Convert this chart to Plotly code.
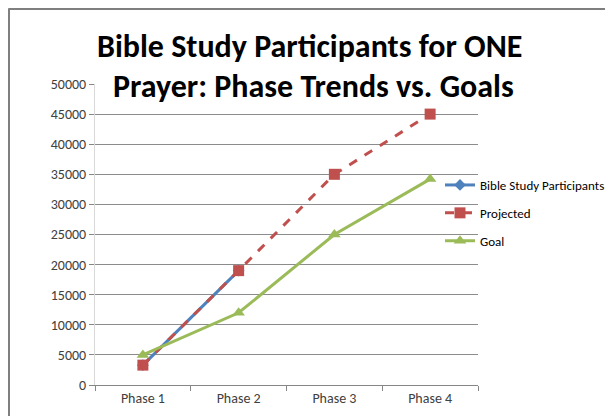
import plotly.graph_objects as go

phases = ["Phase 1", "Phase 2", "Phase 3", "Phase 4"]
participants = [3300, 19000, None, None]
projected = [3300, 19000, 35000, 45000]
goal = [5000, 12000, 25000, 34200]
y_ticks = list(range(0, 50001, 5000))

FONT = "Carlito, 'Liberation Sans Narrow', 'DejaVu Sans Condensed', 'Open Sans', sans-serif"

fig = go.Figure()
fig.add_trace(go.Scatter(
    x=phases, y=participants, name="Bible Study Participants", mode="lines+markers",
    line=dict(color="#4F81BD", width=3), marker=dict(symbol="diamond", size=9, color="#4F81BD"),
    legendgroup="a"))
fig.add_trace(go.Scatter(
    x=phases, y=projected, name="Projected", mode="lines+markers",
    line=dict(color="#C0504D", width=3, dash="dash"), marker=dict(symbol="square", size=11, color="#C0504D"),
    legendgroup="b"))
fig.add_trace(go.Scatter(
    x=phases, y=goal, name="Goal", mode="lines+markers",
    line=dict(color="#9BBB59", width=3), marker=dict(symbol="triangle-up", size=11, color="#9BBB59"),
    legendgroup="c"))

# page body has an 8px margin; work in page coordinates and shift
OFF = 8
L, R, T, B = 95 - OFF, 478 - OFF, 84 - OFF, 385 - OFF
W, H = 613 - OFF, 416 - OFF
pw, ph = R - L, B - T

def px(x):
    return (x - OFF - L) / pw

def py(y):
    return (B - (y - OFF)) / ph

fig.update_layout(
    width=W, height=H,
    margin=dict(l=L, r=W - R, t=T, b=H - B, pad=0, autoexpand=False),
    paper_bgcolor="white", plot_bgcolor="white",
    font=dict(family=FONT, size=14, color="#404040"),
    showlegend=True,
    legend=dict(x=px(440), y=py(170), xanchor="left", yanchor="top",
                bgcolor="rgba(0,0,0,0)", tracegroupgap=8,
                font=dict(family=FONT, size=13, color="#000000"),
                itemwidth=30),
    xaxis=dict(type="category", range=[-0.5, 3.5], showgrid=False,
               showline=True, linecolor="#868686", linewidth=1,
               ticks="outside", tickson="boundaries", ticklen=5, tickcolor="#868686",
               tickfont=dict(family=FONT, size=14, color="#404040"), fixedrange=True,
               automargin=False),
    yaxis=dict(range=[0, 50000], tickvals=y_ticks, ticktext=[str(v) for v in y_ticks],
               showgrid=True, gridcolor="#8c8c8c", gridwidth=1,
               showline=True, linecolor="#d9d9d9", linewidth=1,
               ticks="outside", ticklen=5, tickcolor="#868686",
               tickfont=dict(family=FONT, size=14, color="#404040"),
               zeroline=False, fixedrange=True, automargin=False),
    shapes=[
        dict(type="line", xref="paper", yref="paper", x0=px(8.5), x1=px(8.5), y0=py(8.5), y1=py(430),
             line=dict(color="#7f7f7f", width=3)),
        dict(type="line", xref="paper", yref="paper", x0=px(8.5), x1=px(630), y0=py(8.5), y1=py(8.5),
             line=dict(color="#7f7f7f", width=3)),
    ],
    annotations=[
        dict(text="<b>Bible Study Participants for ONE</b>", xref="paper", yref="paper",
             x=px(309), y=py(46), xanchor="center", yanchor="middle", showarrow=False,
             font=dict(family=FONT, size=32, color="#000000")),
        dict(text="<b>Prayer: Phase Trends vs. Goals</b>", xref="paper", yref="paper",
             x=px(313), y=py(86), xanchor="center", yanchor="middle", showarrow=False,
             font=dict(family=FONT, size=32, color="#000000")),
    ],
)

fig.write_html("out.html")
